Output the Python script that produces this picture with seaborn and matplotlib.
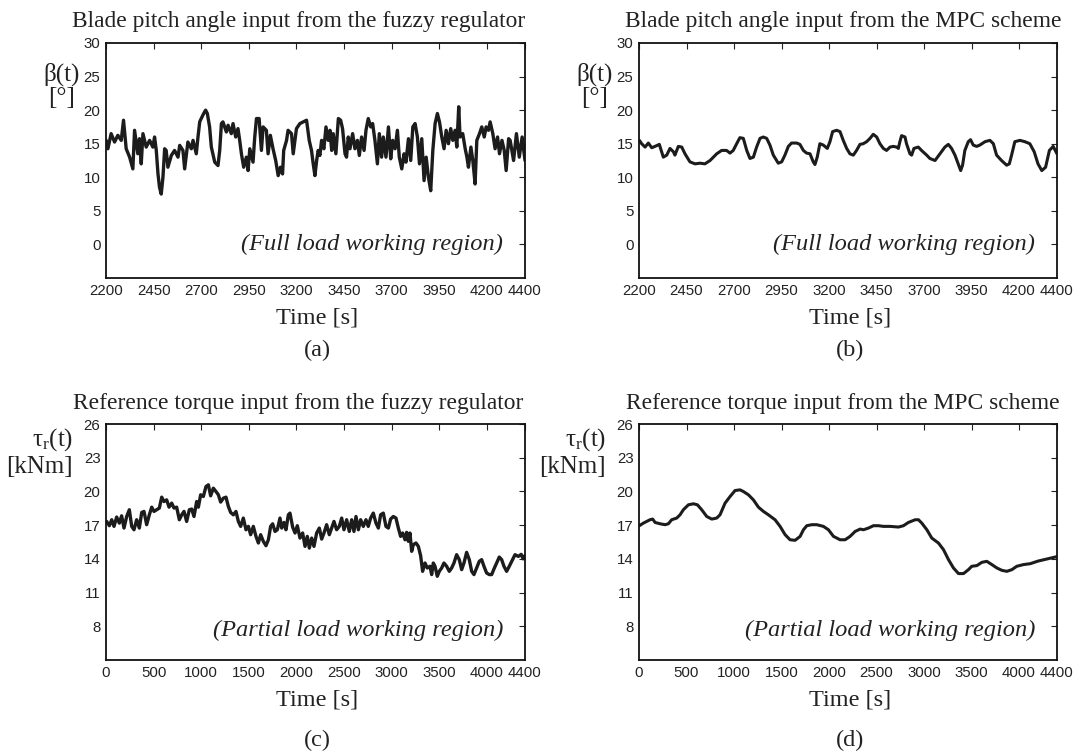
import numpy as np
import pandas as pd
import matplotlib
matplotlib.use("Agg")
import matplotlib.pyplot as plt
import seaborn as sns

# ---------------- data ----------------
# (a) blade pitch angle, fuzzy regulator
pitch_fuzzy_t = [2201, 2210, 2227, 2245, 2262, 2280, 2292, 2306, 2324, 2341, 2350, 2367, 2376, 2385, 2394,
                 2411, 2429, 2446, 2455, 2464, 2473, 2481, 2490, 2499, 2508, 2516, 2525, 2543, 2560, 2578,
                 2587, 2604, 2613, 2630, 2648, 2657, 2674, 2683, 2692, 2700, 2713, 2723, 2732, 2744, 2753,
                 2771, 2788, 2797, 2806, 2814, 2832, 2841, 2858, 2867, 2881, 2893, 2902, 2911, 2923, 2937,
                 2946, 2955, 2972, 2981, 2990, 3004, 3016, 3025, 3042, 3051, 3063, 3077, 3091, 3104, 3116,
                 3127, 3133, 3148, 3156, 3174, 3183, 3200, 3218, 3236, 3253, 3267, 3279, 3288, 3297, 3306,
                 3314, 3323, 3332, 3344, 3355, 3367, 3376, 3385, 3393, 3407, 3420, 3432, 3442, 3455, 3463,
                 3472, 3481, 3495, 3507, 3520, 3530, 3542, 3555, 3565, 3577, 3590, 3600, 3612, 3625, 3635,
                 3647, 3656, 3670, 3683, 3695, 3705, 3718, 3730, 3740, 3753, 3765, 3775, 3788, 3800, 3811,
                 3823, 3835, 3846, 3858, 3870, 3881, 3893, 3905, 3916, 3928, 3940, 3951, 3963, 3975, 3986,
                 3998, 4010, 4021, 4033, 4042, 4052, 4059, 4073, 4086, 4095, 4103, 4116, 4126, 4138, 4147,
                 4161, 4173, 4186, 4196, 4208, 4217, 4231, 4243, 4256, 4266, 4279, 4291, 4301, 4314, 4322,
                 4340, 4355, 4370, 4385, 4400]
pitch_fuzzy_v = [15.5, 14.25, 16.5, 15.25, 16.25, 15.5, 18.5, 14.25, 13.0, 11.25, 17.0, 13.5, 15.75, 12.0, 16.5,
                 14.5, 15.5, 14.5, 16.0, 14.0, 10.5, 8.5, 7.5, 10.0, 14.25, 14.0, 11.5, 13.25, 14.0, 13.0,
                 14.75, 14.0, 11.25, 15.25, 14.25, 15.5, 13.5, 16.0, 18.25, 18.75, 19.5, 20.0, 19.5, 17.5, 14.5,
                 12.25, 11.75, 14.0, 18.0, 18.25, 16.75, 17.75, 16.5, 18.0, 16.0, 17.25, 15.5, 13.5, 11.5, 13.0,
                 11.0, 14.25, 12.25, 16.0, 18.75, 18.75, 14.0, 17.5, 17.0, 13.5, 16.25, 14.25, 12.5, 10.25, 11.5,
                 10.5, 14.0, 15.5, 17.0, 16.5, 13.5, 17.25, 18.0, 18.25, 18.5, 15.5, 14.0, 12.0, 10.25, 12.5,
                 14.0, 13.25, 15.5, 14.25, 17.5, 15.5, 17.0, 14.0, 16.5, 13.5, 18.75, 18.5, 17.25, 13.5, 13.0,
                 16.0, 14.25, 16.5, 14.25, 15.5, 13.25, 16.0, 14.0, 17.0, 18.75, 17.5, 18.0, 15.5, 12.0, 16.5,
                 13.0, 16.0, 13.0, 17.5, 12.75, 15.5, 14.25, 17.0, 13.0, 11.25, 13.5, 12.25, 15.75, 12.5, 17.5,
                 18.0, 16.0, 12.0, 15.75, 9.5, 13.0, 10.0, 8.0, 14.0, 18.0, 19.5, 18.25, 16.0, 14.25, 17.0,
                 15.0, 17.25, 15.5, 17.0, 14.5, 20.5, 16.0, 16.5, 14.25, 13.0, 11.5, 14.5, 12.5, 9.0, 15.5,
                 16.5, 17.5, 16.0, 17.5, 17.0, 18.25, 16.5, 14.25, 16.0, 13.5, 15.5, 14.0, 11.0, 15.75, 15.5,
                 12.5, 16.5, 13.0, 16.0, 12.5]

# (b) blade pitch angle, MPC scheme
pitch_mpc_t = [2202, 2214, 2232, 2249, 2267, 2284, 2307, 2328, 2346, 2363, 2381, 2389, 2407, 2425, 2442,
               2468, 2495, 2521, 2547, 2574, 2609, 2635, 2661, 2679, 2696, 2714, 2731, 2749, 2767, 2784,
               2802, 2819, 2837, 2854, 2872, 2889, 2907, 2933, 2951, 2968, 2986, 3003, 3030, 3047, 3065,
               3082, 3100, 3117, 3126, 3138, 3152, 3170, 3191, 3205, 3219, 3240, 3258, 3275, 3293, 3310,
               3328, 3345, 3363, 3380, 3398, 3416, 3433, 3451, 3468, 3486, 3503, 3521, 3538, 3556, 3565,
               3573, 3582, 3600, 3608, 3626, 3635, 3647, 3670, 3687, 3714, 3731, 3758, 3784, 3810, 3828,
               3845, 3863, 3880, 3893, 3903, 3915, 3933, 3945, 3959, 3977, 3994, 4021, 4047, 4065, 4082,
               4108, 4135, 4149, 4161, 4178, 4205, 4231, 4257, 4280, 4300, 4320, 4340, 4360, 4380, 4400]
pitch_mpc_v = [15.5, 15.0, 14.5, 15.1, 14.4, 14.6, 14.9, 13.0, 13.3, 14.3, 13.8, 13.3, 14.6, 14.5, 13.5,
               12.3, 12.0, 12.1, 12.0, 12.5, 13.5, 14.0, 14.0, 13.6, 14.0, 15.0, 15.9, 15.8, 14.0, 12.8,
               13.0, 14.5, 15.8, 16.0, 15.8, 14.8, 13.3, 12.1, 12.3, 13.3, 14.6, 15.1, 15.1, 14.9, 14.0,
               13.6, 13.5, 12.3, 11.9, 13.0, 15.0, 14.8, 14.3, 15.3, 16.8, 17.0, 16.8, 15.5, 14.3, 13.5,
               13.3, 14.0, 14.9, 15.0, 15.3, 15.8, 16.4, 16.0, 15.0, 14.3, 14.0, 14.5, 14.6, 14.5, 14.3,
               15.3, 16.2, 16.0, 15.0, 13.5, 13.3, 14.3, 14.5, 14.0, 13.3, 12.8, 12.5, 13.5, 14.5, 14.9,
               14.3, 13.3, 12.0, 11.0, 11.8, 14.0, 15.3, 15.6, 14.8, 14.6, 14.8, 15.3, 15.5, 15.0, 13.3,
               12.5, 11.8, 12.0, 13.3, 15.3, 15.5, 15.3, 15.0, 13.8, 12.0, 11.0, 11.5, 14.0, 14.6, 13.5]

# (c) reference torque, fuzzy regulator
torque_fuzzy_t = [7, 35, 60, 84, 112, 140, 164, 189, 217, 245, 270, 294, 322, 350, 375, 399, 427, 455, 480,
                  504, 532, 560, 585, 609, 637, 662, 690, 714, 742, 770, 795, 819, 847, 875, 900, 924, 952,
                  970, 994, 1022, 1050, 1075, 1099, 1127, 1155, 1180, 1204, 1232, 1260, 1285, 1309, 1337,
                  1365, 1390, 1414, 1442, 1470, 1495, 1519, 1547, 1575, 1600, 1624, 1652, 1680, 1705, 1729,
                  1750, 1775, 1799, 1827, 1845, 1869, 1890, 1915, 1932, 1960, 1985, 2009, 2037, 2065, 2090,
                  2114, 2135, 2160, 2184, 2212, 2240, 2265, 2289, 2317, 2345, 2370, 2394, 2422, 2450, 2475,
                  2499, 2527, 2555, 2580, 2604, 2625, 2650, 2674, 2702, 2730, 2754, 2779, 2807, 2835, 2860,
                  2884, 2912, 2940, 2965, 2989, 3017, 3045, 3070, 3094, 3115, 3140, 3157, 3175, 3192, 3210,
                  3227, 3255, 3280, 3304, 3325, 3350, 3374, 3402, 3420, 3437, 3455, 3479, 3500, 3525, 3549,
                  3577, 3605, 3630, 3654, 3682, 3710, 3735, 3759, 3787, 3815, 3840, 3864, 3892, 3920, 3945,
                  3969, 3997, 4025, 4050, 4074, 4102, 4130, 4155, 4179, 4207, 4235, 4270, 4295, 4330, 4360,
                  4380, 4400]
torque_fuzzy_v = [17.33, 16.95, 17.48, 16.89, 17.72, 17.18, 17.83, 16.74, 17.77, 18.37, 16.89, 16.59, 17.48,
                  16.74, 18.13, 18.22, 17.04, 17.92, 18.60, 18.22, 18.37, 18.52, 19.49, 19.10, 19.25, 18.60,
                  18.96, 18.52, 18.60, 17.48, 17.92, 18.22, 17.33, 18.37, 18.43, 17.77, 19.10, 18.60, 19.70,
                  19.55, 20.44, 20.59, 19.61, 20.29, 19.99, 19.70, 19.05, 19.40, 19.49, 18.66, 18.13, 17.92,
                  18.22, 17.33, 16.89, 17.63, 16.59, 16.89, 16.15, 16.89, 16.00, 15.41, 16.15, 15.56, 15.17,
                  15.70, 16.89, 17.12, 16.44, 16.59, 17.63, 16.74, 17.24, 16.59, 17.92, 18.07, 16.83, 16.30,
                  16.95, 15.85, 16.30, 15.11, 16.00, 14.96, 15.85, 15.11, 16.30, 16.74, 15.76, 16.30, 17.04,
                  16.15, 16.74, 17.33, 16.59, 16.89, 17.63, 16.59, 17.48, 16.44, 17.48, 16.44, 17.77, 16.59,
                  17.48, 16.89, 17.48, 16.89, 17.63, 18.07, 17.18, 16.74, 17.92, 18.07, 16.89, 16.74, 17.54,
                  17.77, 17.63, 16.74, 16.00, 16.30, 15.70, 16.36, 15.56, 16.30, 14.67, 15.26, 15.41, 15.11,
                  14.28, 12.89, 13.63, 13.19, 13.34, 12.60, 13.63, 13.34, 12.45, 12.89, 13.19, 13.63, 13.34,
                  12.89, 13.19, 13.63, 14.37, 13.93, 13.04, 13.63, 14.58, 13.93, 12.89, 12.60, 13.19, 13.78,
                  13.93, 13.34, 12.74, 12.60, 12.60, 13.10, 13.63, 14.16, 13.93, 13.34, 12.89, 13.34, 13.93,
                  14.37, 14.22, 14.40, 14.00, 14.30]

# (d) reference torque, MPC scheme
torque_mpc_t = [4, 46, 81, 116, 144, 169, 222, 274, 309, 344, 397, 432, 467, 520, 573, 615, 660, 713, 766,
                818, 853, 906, 959, 1011, 1064, 1099, 1152, 1204, 1257, 1310, 1362, 1432, 1485, 1538, 1590,
                1643, 1696, 1731, 1766, 1819, 1871, 1941, 1994, 2047, 2117, 2170, 2222, 2275, 2328, 2363,
                2415, 2468, 2521, 2573, 2643, 2731, 2784, 2836, 2907, 2942, 2977, 3030, 3082, 3152, 3205,
                3258, 3310, 3363, 3416, 3468, 3503, 3556, 3609, 3661, 3714, 3767, 3819, 3872, 3925, 3977,
                4047, 4118, 4200, 4300, 4400]
torque_mpc_v = [16.95, 17.18, 17.33, 17.48, 17.54, 17.24, 17.12, 17.04, 17.12, 17.48, 17.63, 17.92, 18.37,
                18.81, 18.90, 18.81, 18.37, 17.77, 17.54, 17.63, 17.92, 18.96, 19.55, 20.08, 20.14, 19.99,
                19.70, 19.25, 18.60, 18.22, 17.92, 17.48, 16.89, 16.15, 15.70, 15.65, 16.00, 16.59, 16.95,
                17.04, 17.04, 16.89, 16.59, 16.00, 15.70, 15.70, 16.00, 16.44, 16.65, 16.59, 16.74, 16.95,
                16.95, 16.89, 16.89, 16.83, 16.95, 17.24, 17.48, 17.48, 17.18, 16.59, 15.85, 15.41, 14.82,
                13.93, 13.19, 12.69, 12.69, 13.04, 13.34, 13.40, 13.69, 13.78, 13.49, 13.19, 12.98, 12.89,
                13.04, 13.34, 13.49, 13.57, 13.80, 14.00, 14.20]

titles = ["Blade pitch angle input from the fuzzy regulator",
          "Blade pitch angle input from the MPC scheme",
          "Reference torque input from the fuzzy regulator",
          "Reference torque input from the MPC scheme"]
panel_labels = ["(a)", "(b)", "(c)", "(d)"]
region_notes = ["(Full load working region)", "(Partial load working region)"]
xlabel = "Time [s]"
pitch_xticks = [2200, 2450, 2700, 2950, 3200, 3450, 3700, 3950, 4200, 4400]
pitch_yticks = [0, 5, 10, 15, 20, 25, 30]
torque_xticks = [0, 500, 1000, 1500, 2000, 2500, 3000, 3500, 4000, 4400]
torque_yticks = [8, 11, 14, 17, 20, 23, 26]

# ---------------- styling ----------------
sns.set_style("white")
plt.rcParams["font.family"] = ["Liberation Sans", "DejaVu Sans"]
plt.rcParams["mathtext.fontset"] = "custom"
plt.rcParams["mathtext.rm"] = "Liberation Serif"
plt.rcParams["mathtext.it"] = "Liberation Serif:italic"

SERIF = ["Liberation Serif", "DejaVu Serif"]
TXT = "#222222"
W, H = 1083, 755
fig = plt.figure(figsize=(W / 100, H / 100), dpi=100)
fig.patch.set_facecolor("white")


def add_ax(l, t, r, b):
    return fig.add_axes([l / W, 1 - b / H, (r - l) / W, (b - t) / H])


def ftext(x, y, s, **kw):
    fig.text(x / W, 1 - y / H, s, **kw)


boxes = [(106, 43, 525, 278), (639, 43, 1057, 278), (106, 424, 525, 660), (639, 424, 1057, 660)]
series = [(pitch_fuzzy_t, pitch_fuzzy_v), (pitch_mpc_t, pitch_mpc_v),
          (torque_fuzzy_t, torque_fuzzy_v), (torque_mpc_t, torque_mpc_v)]
line_col = "#1c1c1c"

for i, (box, (tt, vv)) in enumerate(zip(boxes, series)):
    ax = add_ax(*box)
    df = pd.DataFrame({"t": tt, "v": vv})
    sns.lineplot(data=df, x="t", y="v", ax=ax, color=line_col,
                 linewidth=2.4 if i % 2 == 0 else 2.2,
                 estimator=None, sort=False)
    pitch = i < 2
    if pitch:
        ax.set_xlim(2200, 4400)
        ax.set_ylim(-5, 30)
        ax.set_xticks(pitch_xticks)
        ax.set_yticks(pitch_yticks)
    else:
        ax.set_xlim(0, 4400)
        ax.set_ylim(5, 26)
        ax.set_xticks(torque_xticks)
        ax.set_yticks(torque_yticks)
    ax.set_xlabel("")
    ax.set_ylabel("")
    ax.tick_params(direction="in", length=4, width=0.8, top=True, right=True,
                   labelsize=10.8, colors=TXT, pad=4)
    for sp in ax.spines.values():
        sp.set_visible(True)
        sp.set_color("#111111")
        sp.set_linewidth(1.3)
    note = region_notes[0] if pitch else region_notes[1]
    ny = 0.1426 if pitch else 0.127
    ax.text(0.948, ny, note, transform=ax.transAxes, ha="right", va="center",
            fontsize=17.6, style="italic", family=SERIF, color=TXT)

    l, t, r, b = box
    cx = (l + r) / 2
    # title
    title_x = cx - 17 if i % 2 == 0 else cx - 5
    title_y = 21 if pitch else 403
    ftext(title_x, title_y, titles[i], ha="center", va="center", fontsize=16.9,
          family=SERIF, color=TXT)
    # x label
    ftext(cx + 2, b + 40, xlabel, ha="center", va="center", fontsize=17.5,
          family=SERIF, color=TXT)
    # panel label
    ftext(cx + 2, b + (72 if pitch else 80), panel_labels[i], ha="center", va="center",
          fontsize=17.5, family=SERIF, color=TXT)
    # y label
    if pitch:
        ftext(l - 44, 74, "β(t)", ha="center", va="center", fontsize=18,
              family=SERIF, color=TXT)
        ftext(l - 44, 98, "[°]", ha="center", va="center", fontsize=18,
              family=SERIF, color=TXT)
    else:
        ftext(l - 33, 440, r"$\mathrm{\tau_r}$(t)", ha="right", va="center", fontsize=18,
              family=SERIF, color=TXT)
        ftext(l - 33, 467, "[kNm]", ha="right", va="center", fontsize=18,
              family=SERIF, color=TXT)

fig.savefig("out.png", dpi=100, facecolor="white")
